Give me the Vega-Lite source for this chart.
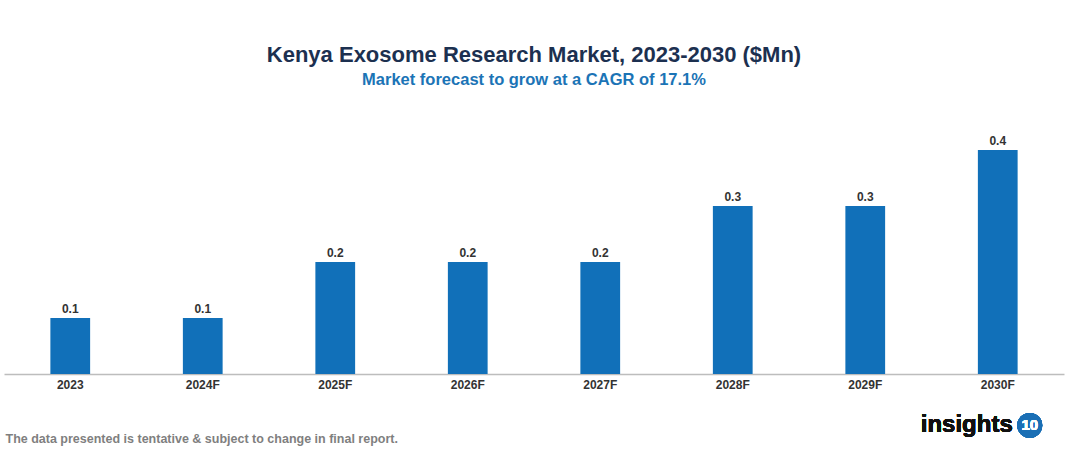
{
  "$schema": "https://vega.github.io/schema/vega-lite/v6.json",
  "autosize": "none",
  "width": 1060,
  "height": 224,
  "padding": {"left": 4, "top": 150, "right": 3, "bottom": 80},
  "background": "white",
  "config": {"view": {"stroke": null}, "font": "Liberation Sans"},
  "title": {
    "text": "Kenya Exosome Research Market, 2023-2030 ($Mn)",
    "subtitle": "Market forecast to grow at a CAGR of 17.1%",
    "anchor": "middle",
    "font": "Liberation Sans",
    "fontSize": 22,
    "fontWeight": "bold",
    "color": "#1c3050",
    "subtitleFont": "Liberation Sans",
    "subtitleFontSize": 16.5,
    "subtitleFontWeight": "bold",
    "subtitleColor": "#1b74b6",
    "subtitlePadding": 5,
    "offset": 46
  },
  "data": {
    "values": [
      {"year": "2023", "value": 0.1},
      {"year": "2024F", "value": 0.1},
      {"year": "2025F", "value": 0.2},
      {"year": "2026F", "value": 0.2},
      {"year": "2027F", "value": 0.2},
      {"year": "2028F", "value": 0.3},
      {"year": "2029F", "value": 0.3},
      {"year": "2030F", "value": 0.4}
    ]
  },
  "encoding": {
    "x": {
      "field": "year",
      "type": "nominal",
      "sort": null,
      "scale": {"paddingInner": 0.7, "paddingOuter": 0.35},
      "axis": {
        "title": "The data presented is tentative & subject to change in final report.",
        "titleAnchor": "start",
        "titleAlign": "left",
        "titleX": 1,
        "titleY": 64,
        "titleBaseline": "middle",
        "titleFont": "Liberation Sans",
        "titleFontSize": 12.5,
        "titleFontWeight": "bold",
        "titleColor": "#7f7f7f",
        "labelAngle": 0,
        "labelFont": "Liberation Sans",
        "labelFontSize": 12,
        "labelFontWeight": "bold",
        "labelColor": "#333333",
        "labelPadding": 5,
        "ticks": false,
        "domainColor": "#bdbdbd",
        "domainWidth": 1.5
      }
    },
    "y": {
      "field": "value",
      "type": "quantitative",
      "scale": {"domain": [0, 0.4]},
      "axis": null
    }
  },
  "layer": [
    {"mark": {"type": "bar", "color": "#1170b9"}},
    {
      "mark": {"type": "text", "baseline": "bottom", "dy": -2, "fontSize": 12, "fontWeight": "bold", "color": "#333333"},
      "encoding": {"text": {"field": "value", "type": "quantitative", "format": ".1f"}}
    },
    {
      "mark": {"type": "text", "align": "right", "baseline": "middle", "fontSize": 24, "fontWeight": "bold", "color": "#111111", "xOffset": 15, "yOffset": 1, "clip": false},
      "encoding": {
        "x": {"datum": "2030F"},
        "y": {"datum": -0.09},
        "text": {"value": "insights"}
      }
    },
    {
      "mark": {"type": "point", "filled": true, "size": 620, "color": "#1a6fb5", "opacity": 1, "xOffset": 32, "yOffset": 1, "clip": false},
      "encoding": {
        "x": {"datum": "2030F"},
        "y": {"datum": -0.09}
      }
    },
    {
      "mark": {"type": "text", "align": "center", "baseline": "middle", "fontSize": 15, "fontWeight": "bold", "color": "white", "xOffset": 32, "yOffset": 1, "clip": false},
      "encoding": {
        "x": {"datum": "2030F"},
        "y": {"datum": -0.09},
        "text": {"value": "10"}
      }
    }
  ]
}
